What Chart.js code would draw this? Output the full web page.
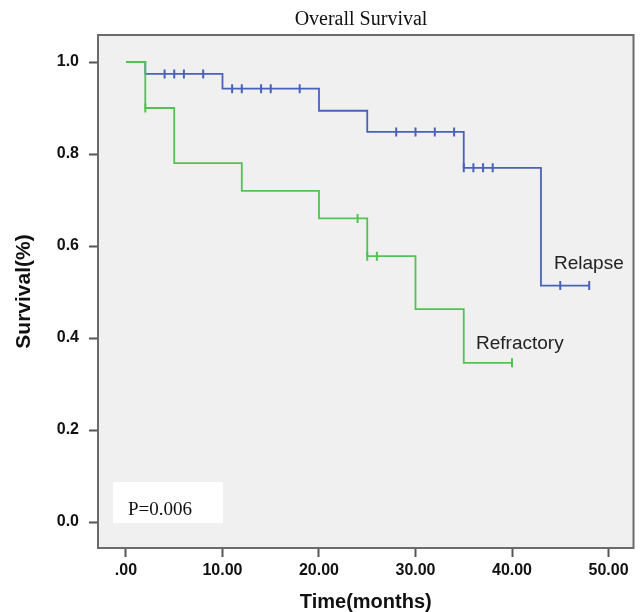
<!DOCTYPE html>
<html>
<head>
<meta charset="utf-8">
<script src="https://cdn.jsdelivr.net/npm/chart.js@4.4.1/dist/chart.umd.min.js"></script>
<style>
  html, body { margin: 0; padding: 0; background: #fff; }
  canvas { display: block; }
</style>
</head>
<body>
<canvas id="survivalChart" width="640" height="612"></canvas>
<script>
// Kaplan-Meier steps (time in months, survival proportion after the event)
const relapseTimes = [0, 2, 10, 20, 25, 35, 43, 48];
const relapseSurvival = [1.0, 0.974, 0.942, 0.894, 0.848, 0.770, 0.514, 0.514];
const relapseCensorTimes = [4, 5, 6, 8, 11, 12, 14, 15, 18, 28, 30, 32, 34, 35, 36, 37, 38, 45, 48];
const relapseCensorSurvival = [0.974, 0.974, 0.974, 0.974, 0.942, 0.942, 0.942, 0.942, 0.942,
    0.848, 0.848, 0.848, 0.848, 0.770, 0.770, 0.770, 0.770, 0.514, 0.514];

const refractoryTimes = [0, 2, 5, 12, 20, 25, 30, 35, 40];
const refractorySurvival = [1.0, 0.9, 0.78, 0.72, 0.66, 0.578, 0.463, 0.346, 0.346];
const refractoryCensorTimes = [2, 24, 25, 26, 40];
const refractoryCensorSurvival = [0.9, 0.66, 0.578, 0.578, 0.346];

const xTicks = [0, 10, 20, 30, 40, 50];
const yTicks = [0, 0.2, 0.4, 0.6, 0.8, 1.0];

const blue = '#4a61b8';
const green = '#52c252';
const sans = "'Liberation Sans', Arial, sans-serif";
const serif = "'Liberation Serif', 'Times New Roman', serif";

function toPoints(xs, ys) {
    return xs.map((x, i) => ({ x: x, y: ys[i] }));
}

// plot background, frame and the text annotations
const decorPlugin = {
    id: 'decor',
    beforeDraw(chart) {
        const ctx = chart.ctx;
        const a = chart.chartArea;
        ctx.save();
        ctx.fillStyle = '#f0f0f0';
        ctx.fillRect(a.left, a.top, a.right - a.left, a.bottom - a.top);
        ctx.restore();
    },
    afterDraw(chart) {
        const ctx = chart.ctx;
        const a = chart.chartArea;
        ctx.save();
        ctx.strokeStyle = '#6b6b6b';
        ctx.lineWidth = 2;
        ctx.strokeRect(a.left, a.top, a.right - a.left, a.bottom - a.top);

        ctx.fillStyle = '#111';
        ctx.textBaseline = 'alphabetic';
        ctx.textAlign = 'center';
        ctx.font = '20px ' + serif;
        ctx.fillText('Overall Survival', 361, 25);

        ctx.textAlign = 'left';
        ctx.fillStyle = '#222';
        ctx.font = '19px ' + sans;
        ctx.fillText('Relapse', 554, 269);
        ctx.fillText('Refractory', 476, 349);

        ctx.fillStyle = '#fff';
        ctx.fillRect(113, 482, 110, 41);
        ctx.fillStyle = '#111';
        ctx.font = '19px ' + serif;
        ctx.fillText('P=0.006', 128, 515);
        ctx.restore();
    }
};

const ctx = document.getElementById('survivalChart').getContext('2d');
new Chart(ctx, {
    type: 'scatter',
    data: {
        datasets: [
            {
                label: 'Refractory',
                type: 'line',
                data: toPoints(refractoryTimes, refractorySurvival),
                stepped: 'before',
                borderColor: green,
                borderWidth: 1.8,
                pointRadius: 0,
                fill: false
            },
            {
                label: 'Refractory censored',
                data: toPoints(refractoryCensorTimes, refractoryCensorSurvival),
                pointStyle: 'line',
                rotation: 90,
                pointRadius: 4.5,
                borderColor: green,
                borderWidth: 2
            },
            {
                label: 'Relapse',
                type: 'line',
                data: toPoints(relapseTimes, relapseSurvival),
                stepped: 'before',
                borderColor: blue,
                borderWidth: 1.8,
                pointRadius: 0,
                fill: false
            },
            {
                label: 'Relapse censored',
                data: toPoints(relapseCensorTimes, relapseCensorSurvival),
                pointStyle: 'line',
                rotation: 90,
                pointRadius: 4.5,
                borderColor: blue,
                borderWidth: 2
            }
        ]
    },
    options: {
        responsive: false,
        animation: false,
        devicePixelRatio: 1,
        layout: { padding: { top: 35, right: 6, left: 0, bottom: 0 } },
        plugins: {
            legend: { display: false },
            title: { display: false },
            tooltip: { enabled: false }
        },
        scales: {
            x: {
                type: 'linear',
                min: -2.9,
                max: 52.59,
                afterBuildTicks: scale => { scale.ticks = xTicks.map(v => ({ value: v })); },
                afterFit: scale => { scale.height = 64; },
                ticks: {
                    callback: v => v === 0 ? '.00' : v.toFixed(2),
                    font: { family: sans, size: 16, weight: 'bold' },
                    color: '#111',
                    padding: 4,
                    maxRotation: 0
                },
                grid: {
                    drawOnChartArea: false,
                    drawTicks: true,
                    tickLength: 9,
                    tickColor: '#555',
                    tickWidth: 2
                },
                border: { display: false },
                title: {
                    display: true,
                    text: 'Time(months)',
                    font: { family: sans, size: 20, weight: 'bold', lineHeight: 1 },
                    color: '#111',
                    padding: { top: 0, bottom: 0 }
                }
            },
            y: {
                min: -0.0565,
                max: 1.0587,
                afterBuildTicks: scale => { scale.ticks = yTicks.map(v => ({ value: v })); },
                afterFit: scale => { scale.width = 98; },
                ticks: {
                    callback: v => v.toFixed(1),
                    font: { family: sans, size: 16, weight: 'bold' },
                    color: '#111',
                    padding: 10
                },
                grid: {
                    drawOnChartArea: false,
                    drawTicks: true,
                    tickLength: 9,
                    tickColor: '#555',
                    tickWidth: 2
                },
                border: { display: false },
                title: {
                    display: true,
                    text: 'Survival(%)',
                    font: { family: sans, size: 21, weight: 'bold', lineHeight: 1.2 },
                    color: '#111',
                    padding: { top: 12, bottom: 0 }
                }
            }
        }
    },
    plugins: [decorPlugin]
});
</script>
</body>
</html>
